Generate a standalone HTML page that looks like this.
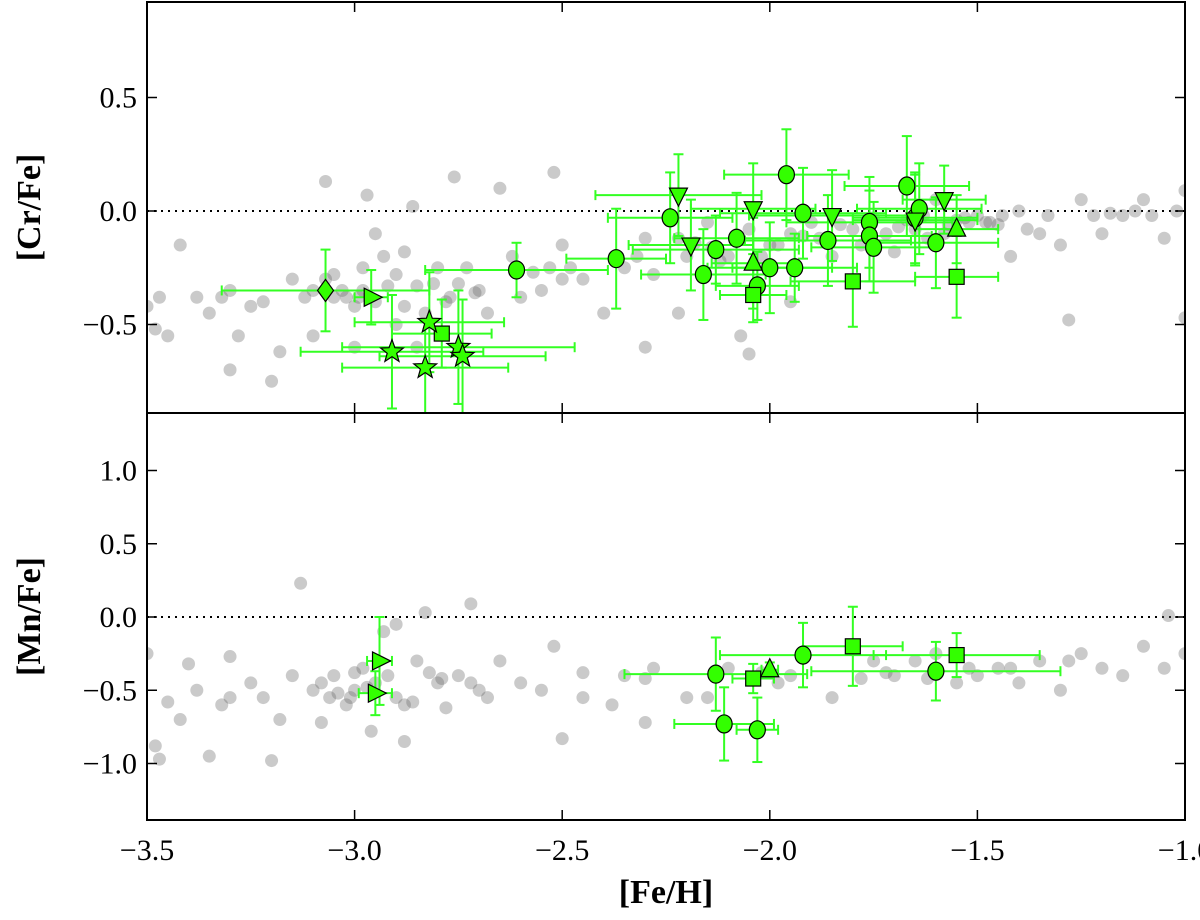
<!DOCTYPE html>
<html><head><meta charset="utf-8"><style>
html,body{margin:0;padding:0;background:#fff}
svg text{font-family:"Liberation Serif",serif}
</style></head><body>
<svg id="chart" width="1200" height="915" viewBox="0 0 1200 915" xmlns="http://www.w3.org/2000/svg">
<g id="layer"></g>
</svg>
<script>
const xTicks=[-3.5,-3.0,-2.5,-2.0,-1.5,-1.0];
const xTickLabels=["\u22123.5","\u22123.0","\u22122.5","\u22122.0","\u22121.5","\u22121.0"];
const topYTicks=[0.5,0.0,-0.5];
const topYTickLabels=["0.5","0.0","\u22120.5"];
const botYTicks=[1.0,0.5,0.0,-0.5,-1.0];
const botYTickLabels=["1.0","0.5","0.0","\u22120.5","\u22121.0"];
const crGrayX=[-3.5,-3.48,-3.45,-3.42,-3.38,-3.35,-3.32,-3.3,-3.28,-3.25,-3.22,-3.2,-3.18,-3.15,-3.12,-3.1,-3.07,-3.05,-3.02,-3.0,-2.98,-2.97,-2.95,-2.93,-2.9,-2.88,-2.86,-2.85,-2.83,-2.8,-2.78,-2.76,-2.75,-2.73,-2.7,-2.68,-2.65,-2.62,-2.6,-2.55,-2.52,-2.5,-2.45,-2.4,-2.35,-2.3,-2.28,-2.22,-2.2,-2.15,-2.1,-2.05,-2.0,-1.95,-1.9,-1.85,-1.8,-1.75,-1.7,-1.65,-1.6,-1.55,-1.5,-1.45,-1.42,-1.4,-1.35,-1.3,-1.28,-1.25,-1.22,-1.2,-1.15,-1.1,-1.08,-1.05,-1.02,-1.0,-1.0,-2.07,-2.05,-2.3,-2.22,-1.95,-2.5,-2.85,-3.0,-2.9,-3.1,-2.95,-1.88,-1.78,-1.58,-1.48,-1.38,-2.12,-1.72,-1.62,-1.52,-3.47,-3.3,-3.07,-3.03,-2.99,-2.92,-2.88,-2.81,-2.77,-2.71,-2.57,-2.53,-2.48,-2.32,-2.18,-2.14,-2.02,-1.98,-1.92,-1.83,-1.69,-1.67,-1.63,-1.57,-1.53,-1.47,-1.44,-1.33,-1.18,-1.12,-3.05,-2.98];
const crGrayY=[-0.42,-0.52,-0.55,-0.15,-0.38,-0.45,-0.38,-0.70,-0.55,-0.42,-0.40,-0.75,-0.62,-0.30,-0.38,-0.35,0.13,-0.28,-0.38,-0.42,-0.25,0.07,-0.10,-0.20,-0.28,-0.18,0.02,-0.33,-0.45,-0.25,-0.40,0.15,-0.32,-0.25,-0.35,-0.45,0.10,-0.20,-0.38,-0.35,0.17,-0.15,-0.30,-0.45,-0.25,-0.12,-0.28,-0.12,-0.20,-0.05,-0.20,-0.08,-0.15,-0.10,-0.05,-0.20,-0.08,-0.03,-0.18,-0.08,0.05,-0.04,-0.02,-0.06,-0.20,0.00,-0.10,-0.15,-0.48,0.05,-0.02,-0.10,-0.02,0.05,-0.02,-0.12,0.00,0.09,-0.47,-0.55,-0.63,-0.60,-0.45,-0.40,-0.30,-0.60,-0.60,-0.50,-0.55,-0.40,-0.12,-0.15,-0.10,-0.05,-0.08,-0.22,-0.10,-0.12,-0.05,-0.38,-0.35,-0.30,-0.35,-0.38,-0.33,-0.42,-0.32,-0.38,-0.36,-0.27,-0.25,-0.25,-0.20,-0.14,-0.16,-0.20,-0.15,-0.11,-0.06,-0.07,-0.04,-0.02,-0.06,-0.03,-0.05,-0.02,-0.02,-0.01,0.0,-0.38,-0.35];
const mnGrayX=[-3.5,-3.48,-3.47,-3.45,-3.42,-3.4,-3.38,-3.35,-3.32,-3.3,-3.3,-3.25,-3.22,-3.2,-3.18,-3.15,-3.13,-3.1,-3.08,-3.05,-3.02,-3.0,-2.98,-2.96,-2.93,-2.9,-2.9,-2.88,-2.85,-2.83,-2.8,-2.78,-2.75,-2.72,-2.7,-2.65,-2.6,-2.55,-2.52,-2.5,-2.45,-2.38,-2.35,-2.3,-2.28,-2.2,-2.15,-2.1,-1.95,-1.85,-1.75,-1.7,-1.65,-1.6,-1.55,-1.5,-1.45,-1.4,-1.35,-1.3,-1.25,-1.2,-1.15,-1.1,-1.05,-1.04,-1.0,-1.78,-1.62,-3.06,-3.0,-2.95,-2.88,-3.08,-3.04,-3.01,-2.97,-2.92,-2.86,-2.82,-2.79,-2.72,-2.68,-2.45,-2.3,-2.02,-1.98,-1.72,-1.52,-1.42,-1.28];
const mnGrayY=[-0.25,-0.88,-0.97,-0.58,-0.70,-0.32,-0.50,-0.95,-0.60,-0.27,-0.55,-0.45,-0.55,-0.98,-0.70,-0.40,0.23,-0.50,-0.72,-0.40,-0.60,-0.50,-0.35,-0.78,-0.10,-0.05,-0.55,-0.85,-0.30,0.03,-0.45,-0.62,-0.40,0.09,-0.50,-0.30,-0.45,-0.50,-0.20,-0.83,-0.55,-0.60,-0.40,-0.72,-0.35,-0.55,-0.55,-0.35,-0.40,-0.55,-0.30,-0.40,-0.30,-0.25,-0.45,-0.40,-0.35,-0.45,-0.30,-0.50,-0.25,-0.35,-0.40,-0.20,-0.35,0.01,-0.25,-0.42,-0.42,-0.55,-0.38,-0.45,-0.60,-0.45,-0.52,-0.55,-0.48,-0.40,-0.58,-0.38,-0.42,-0.45,-0.55,-0.38,-0.42,-0.38,-0.45,-0.38,-0.35,-0.35,-0.30];
const crStarsX=[-3.07,-2.96,-2.79,-2.82,-2.91,-2.83,-2.75,-2.74,-2.61,-2.37,-2.24,-2.16,-2.13,-2.08,-2.03,-1.96,-2.0,-1.92,-1.94,-1.86,-1.76,-1.76,-1.75,-1.67,-1.65,-1.64,-1.60,-2.22,-2.19,-2.04,-1.85,-1.65,-1.58,-2.04,-1.55,-2.04,-1.80,-1.55];
const crStarsY=[-0.35,-0.38,-0.54,-0.49,-0.62,-0.69,-0.60,-0.64,-0.26,-0.21,-0.03,-0.28,-0.17,-0.12,-0.33,0.16,-0.25,-0.01,-0.25,-0.13,-0.05,-0.11,-0.16,0.11,-0.03,0.01,-0.14,0.07,-0.15,0.01,-0.02,-0.04,0.05,-0.23,-0.08,-0.37,-0.31,-0.29];
const crStarsXErr=[0.25,0.04,0.12,0.18,0.22,0.2,0.28,0.2,0.22,0.12,0.15,0.15,0.2,0.15,0.1,0.15,0.15,0.2,0.15,0.2,0.2,0.15,0.15,0.15,0.15,0.15,0.15,0.2,0.15,0.15,0.2,0.15,0.1,0.1,0.1,0.08,0.15,0.1];
const crStarsYErr=[0.18,0.12,0.15,0.22,0.25,0.2,0.25,0.25,0.12,0.22,0.2,0.2,0.15,0.2,0.15,0.2,0.2,0.2,0.15,0.2,0.2,0.2,0.2,0.22,0.2,0.2,0.2,0.18,0.2,0.2,0.2,0.2,0.15,0.2,0.15,0.12,0.2,0.18];
const crMarkers=["D",">","s","*","*","*","*","*","o","o","o","o","o","o","o","o","o","o","o","o","o","o","o","o","o","o","o","v","v","v","v","v","v","^","^","s","s","s"];
const mnStarsX=[-2.94,-2.95,-2.13,-2.11,-2.03,-1.92,-1.6,-2.04,-1.8,-1.55,-2.0];
const mnStarsY=[-0.30,-0.52,-0.39,-0.73,-0.77,-0.26,-0.37,-0.42,-0.20,-0.26,-0.36];
const mnStarsXErr=[0.03,0.04,0.22,0.12,0.05,0.2,0.3,0.05,0.12,0.2,0.02];
const mnStarsYErr=[0.3,0.15,0.25,0.25,0.22,0.22,0.2,0.1,0.27,0.15,0.05];
const mnMarkers=[">",">","o","o","o","o","o","s","s","s","^"];

const NS="http://www.w3.org/2000/svg";
const L=147,R=1185,T1=2,B1=413,T2=413,B2=820;
const xs=v=>L+(v+3.5)*(R-L)/2.5;
const y1=v=>211-v*227;
const y2=v=>617-v*146.5;
const layer=document.getElementById('layer');
function mk(tag,attrs,parent){const e=document.createElementNS(NS,tag);for(const k in attrs)e.setAttribute(k,attrs[k]);(parent||layer).appendChild(e);return e;}

function panel(name,T,B,ys,yt,ytl,gx,gy,sx,sy,sxe,sye,sm,ylabel,showX){
  const g=mk('g',{});
  
  
  const clip=mk('clipPath',{id:'clip-'+name},g);
  mk('rect',{x:L,y:T,width:R-L,height:B-T},clip);
  const pg=mk('g',{'clip-path':'url(#clip-'+name+')'},g);
  const zl=mk('line',{x1:L,x2:R,y1:ys(0),y2:ys(0),stroke:'#000','stroke-width':2,'stroke-dasharray':'2,5'},pg);
  
  
  for(let i=0;i<gx.length;i++){
    const c=mk('circle',{cx:xs(gx[i]),cy:ys(gy[i]),r:6.5,fill:'#666','fill-opacity':0.35},pg);
    
    
  }
  for(let i=0;i<sx.length;i++){
    const cx=xs(sx[i]),cy=ys(sy[i]);
    const eg=mk('g',{stroke:'#33ff22','stroke-width':2},pg);
    
    
    const x0=xs(sx[i]-sxe[i]),x1=xs(sx[i]+sxe[i]),yA=ys(sy[i]+sye[i]),yB=ys(sy[i]-sye[i]);
    mk('line',{x1:x0,x2:x1,y1:cy,y2:cy},eg);
    mk('line',{x1:x0,x2:x0,y1:cy-5,y2:cy+5},eg);
    mk('line',{x1:x1,x2:x1,y1:cy-5,y2:cy+5},eg);
    mk('line',{x1:cx,x2:cx,y1:yA,y2:yB},eg);
    mk('line',{x1:cx-5,x2:cx+5,y1:yA,y2:yA},eg);
    mk('line',{x1:cx-5,x2:cx+5,y1:yB,y2:yB},eg);
  }
  for(let i=0;i<sx.length;i++){
    const cx=xs(sx[i]),cy=ys(sy[i]);const m=sm[i];let e;
    const st={fill:'#33ff00',stroke:'#000','stroke-width':1.2};
    if(m==='o'){e=mk('ellipse',Object.assign({cx:cx,cy:cy,rx:8,ry:9},st),pg);}
    else if(m==='s'){e=mk('rect',Object.assign({x:cx-7.5,y:cy-7.5,width:15,height:15},st),pg);}
    else if(m==='D'){e=mk('polygon',Object.assign({points:`${cx},${cy-11} ${cx+8},${cy} ${cx},${cy+11} ${cx-8},${cy}`},st),pg);}
    else if(m==='^'){e=mk('polygon',Object.assign({points:`${cx},${cy-11} ${cx+9},${cy+7} ${cx-9},${cy+7}`},st),pg);}
    else if(m==='v'){e=mk('polygon',Object.assign({points:`${cx},${cy+11} ${cx+9},${cy-7} ${cx-9},${cy-7}`},st),pg);}
    else if(m==='>'){e=mk('polygon',Object.assign({points:`${cx+11},${cy} ${cx-7},${cy-9} ${cx-7},${cy+9}`},st),pg);}
    else {let p=[];for(let k=0;k<10;k++){const a=-Math.PI/2+k*Math.PI/5,r=k%2?5:12;p.push((cx+r*Math.cos(a)).toFixed(1)+','+(cy+r*Math.sin(a)).toFixed(1));}
      e=mk('polygon',Object.assign({points:p.join(' ')},st),pg);}
    
    
  }
  const fr=mk('rect',{x:L,y:T,width:R-L,height:B-T,fill:'none',stroke:'#000','stroke-width':2},g);
  
  
  const tg=mk('g',{stroke:'#000','stroke-width':1.5},g);
  for(let i=0;i<xTicks.length;i++){const x=xs(xTicks[i]);
    mk('line',{x1:x,x2:x,y1:B,y2:B-10},tg);mk('line',{x1:x,x2:x,y1:T,y2:T+10},tg);}
  for(let i=0;i<yt.length;i++){const y=ys(yt[i]);
    mk('line',{x1:L,x2:L+10,y1:y,y2:y},tg);mk('line',{x1:R,x2:R-10,y1:y,y2:y},tg);
    const t=mk('text',{x:L-10,y:y+10,'text-anchor':'end','font-size':30},g);t.textContent=ytl[i];
    
    }
  const yl=mk('text',{x:0,y:0,transform:`translate(40,${(T+B)/2}) rotate(-90)`,'text-anchor':'middle','font-size':34,'font-weight':'bold'},g);
  yl.textContent=ylabel;
  
  
  if(showX){for(let i=0;i<xTicks.length;i++){
    const t=mk('text',{x:xs(xTicks[i]),y:B+40,'text-anchor':'middle','font-size':30},g);t.textContent=xTickLabels[i];
    
    }}
}
panel('cr',T1,B1,y1,topYTicks,topYTickLabels,crGrayX,crGrayY,crStarsX,crStarsY,crStarsXErr,crStarsYErr,crMarkers,'[Cr/Fe]',false);
panel('mn',T2,B2,y2,botYTicks,botYTickLabels,mnGrayX,mnGrayY,mnStarsX,mnStarsY,mnStarsXErr,mnStarsYErr,mnMarkers,'[Mn/Fe]',true);
const xl=mk('text',{x:(L+R)/2,y:903,'text-anchor':'middle','font-size':34,'font-weight':'bold'});
xl.textContent='[Fe/H]';


</script>
</body></html>
